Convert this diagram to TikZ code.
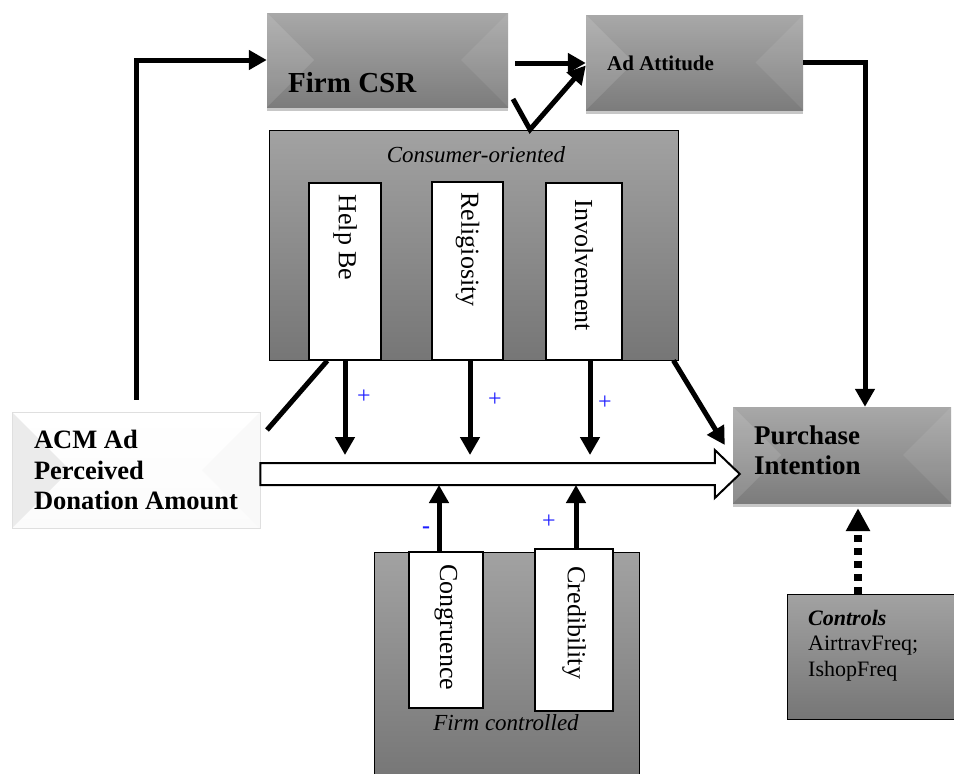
\documentclass[tikz,border=0pt]{standalone}
\usepackage{fontspec}
\setmainfont{Liberation Serif}
\usetikzlibrary{arrows.meta,calc,shadows}
\definecolor{panelTop}{HTML}{A2A2A2}
\definecolor{panelBot}{HTML}{767676}
\definecolor{bevelTop}{HTML}{A8A8A8}
\definecolor{bevelBot}{HTML}{7C7C7C}
\definecolor{signBlue}{HTML}{1E1EFF}
\begin{document}
\begin{tikzpicture}[x=1pt,y=-1pt,
  % side facets of a bevelled rectangular node
  facets/.style n args={2}{path picture={
      \coordinate (ppnw) at (path picture bounding box.north west);
      \coordinate (ppse) at (path picture bounding box.south east);
      \fill[#1] let \p1=(ppnw), \p2=(ppse), \n1={(\y1-\y2)/2} in
        (\x1,\y1) -- (\x1,\y2) -- (\x1+\n1,\y2+\n1) -- cycle;
      \fill[#2] let \p1=(ppnw), \p2=(ppse), \n1={(\y1-\y2)/2} in
        (\x2,\y1) -- (\x2,\y2) -- (\x2-\n1,\y2+\n1) -- cycle;
  }},
  graybevel/.style={inner sep=0pt, top color=bevelTop, bottom color=bevelBot,
    drop shadow={shadow xshift=0pt, shadow yshift=-4pt, opacity=0.22, fill=black},
    facets={white,opacity=0.12}{white,opacity=0.08}},
  whitebevel/.style={inner sep=0pt, top color=white, bottom color=gray!3, draw=gray!25, line width=0.8pt,
    facets={gray!16}{gray!5}},
  panel/.style={inner sep=0pt, top color=panelTop, bottom color=panelBot, draw=black, line width=0.9pt},
  factor/.style={inner sep=0pt, fill=white, draw=black, line width=1.4pt},
  vtext/.style={rotate=-90, anchor=west, inner sep=0pt, font=\fontsize{26}{30}\selectfont},
  ital/.style={anchor=base, inner sep=0pt, font=\fontsize{23}{27}\selectfont\itshape},
  sign/.style={inner sep=0pt, text=signBlue, font=\fontsize{24}{26}\selectfont},
  conn/.style={line width=5pt, draw=black},
  tip/.style={-{Triangle[length=18pt,width=19pt]}},
  dotconn/.style={line width=8pt, dash pattern=on 7pt off 6pt,
    -{Triangle[length=23pt,width=23pt]}},
  hollow/.style={draw=black, fill=white, line width=2pt, line join=miter},
]
\useasboundingbox (0,0) rectangle (954,774);

% ---- main construct boxes ----
\node[graybevel, minimum width=241pt, minimum height=94pt] (fcsr) at (387.5,60) {};
\node[anchor=base west, inner sep=0pt, font=\fontsize{29}{33}\selectfont\bfseries] (fcsrtext) at (288,92) {Firm CSR};

\node[graybevel, minimum width=217pt, minimum height=95pt] (ad) at (694.5,62.5) {};
\node[anchor=base west, inner sep=0pt, font=\fontsize{21}{25}\selectfont\bfseries] (adtext) at (607,70) {Ad Attitude};

\node[graybevel, minimum width=218pt, minimum height=96pt] (pi) at (842,455) {};
\node[anchor=north west, inner sep=0pt, align=left, font=\fontsize{27}{29.5}\selectfont\bfseries] (pitext) at (754,426) {Purchase\\Intention};

\node[whitebevel, minimum width=248pt, minimum height=116pt, align=left,
      font=\fontsize{26.5}{30.5}\selectfont\bfseries] (acm) at (136,470) {ACM Ad\\Perceived\\Donation Amount};

% ---- consumer-oriented moderators ----
\node[panel, minimum width=409pt, minimum height=230pt] (co) at (473.5,245) {};
\node[ital] (cotext) at (476,162) {Consumer-oriented};
\node[factor, minimum width=72pt, minimum height=177pt] (hb) at (345,271.5) {};
\node[factor, minimum width=71pt, minimum height=178pt] (rel) at (467.5,271) {};
\node[factor, minimum width=76pt, minimum height=177pt] (inv) at (584,271.5) {};
\node[vtext] (hbtext) at ([yshift=-12pt]hb.north) {Help Be};
\node[vtext] (reltext) at ([yshift=-11pt]rel.north) {Religiosity};
\node[vtext] (invtext) at ([yshift=-17pt]inv.north) {Involvement};

% ---- firm-controlled moderators ----
\node[panel, minimum width=265pt, minimum height=228pt] (fc) at (506.5,666) {};
\node[factor, minimum width=74pt, minimum height=156pt] (cong) at (446,630) {};
\node[factor, minimum width=78pt, minimum height=162pt] (cred) at (574,630) {};
\node[vtext] (congtext) at ([yshift=-13pt]cong.north) {Congruence};
\node[vtext] (credtext) at ([yshift=-18pt]cred.north) {Credibility};
\node[ital] (fctext) at (506,730) {Firm controlled};

% ---- controls ----
\node[panel, minimum width=173pt, minimum height=125pt] (ctrl) at (873.5,656.5) {};
\node[anchor=north west, inner sep=0pt, align=left, font=\fontsize{22}{25.5}\selectfont] (ctrltext) at (808,610)
  {\textbf{\textit{Controls}}\\AirtravFreq;\\IshopFreq};

% ---- main effect: hollow arrow ----
\coordinate (trunk) at ([yshift=-4pt]acm.east);
\path (pi.west |- trunk) ++(7pt,0) coordinate (tip);
\draw[hollow] ($(trunk)+(0,11pt)$) -- ($(tip)+(-25pt,11pt)$) -- ($(tip)+(-25pt,24pt)$) -- (tip)
  -- ($(tip)+(-25pt,-24pt)$) -- ($(tip)+(-25pt,-11pt)$) -- ($(trunk)+(0,-11pt)$) -- cycle;
\coordinate (modtop) at ($(trunk)+(0,19pt)$);
\coordinate (modbot) at ($(trunk)+(0,-11pt)$);

% ---- connectors ----
\draw[conn, tip] ([yshift=12pt]acm.north) |- (fcsr.west);
\coordinate (fa) at ([xshift=7pt,yshift=-3pt]fcsr.east);
\draw[conn, tip] (fa) -- (fa -| ad.west);
\coordinate (vl) at (513,99);
\coordinate (vtop) at ([xshift=56.5pt]co.north);
\draw[conn, tip, line join=miter] (vl) -- (vtop) -- ([yshift=-3pt]ad.west);
\draw[conn, tip] (ad.east) -| ([xshift=23pt]pi.north);

\draw[conn, tip] (hb.south) -- (hb.south |- modtop);
\draw[conn, tip] ([xshift=2.5pt]rel.south) -- ([xshift=2.5pt]rel.south |- modtop);
\draw[conn, tip] ([xshift=6pt]inv.south) -- ([xshift=6pt]inv.south |- modtop);
\draw[conn, tip] ([xshift=-7pt]cong.north) -- ([xshift=-7pt]cong.north |- modbot);
\draw[conn, tip] ([xshift=2pt]cred.north) -- ([xshift=2pt]cred.north |- modbot);

\coordinate (dl) at (267,430);
\draw[conn] ([xshift=19pt]hb.south west) -- (dl);
\draw[conn, tip] ([xshift=-5pt]co.south east) -- ([xshift=-8pt,yshift=10pt]pi.west);

\draw[dotconn] ([xshift=-15.5pt]ctrl.north) -- ([xshift=16pt,yshift=-5pt]pi.south);

% ---- signs ----
\node[sign] (s1) at (364,397) {+};
\node[sign] (s2) at (495,400) {+};
\node[sign] (s3) at (605,403) {+};
\node[sign, font=\fontsize{24}{26}\selectfont\bfseries] (s4) at (426,530) {-};
\node[sign] (s5) at (549,522) {+};
\end{tikzpicture}
\end{document}
